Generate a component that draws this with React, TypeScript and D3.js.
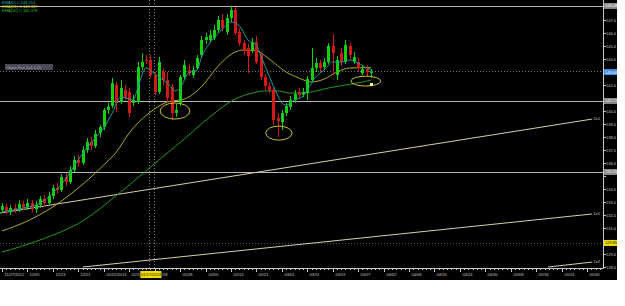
import React from 'react';
import * as d3 from 'd3';

// ---------- data (daily candles, 11/27/2012 .. 03/28/2013) ----------
const opens = [
  132.38, 132.62, 132.23, 132.54, 132.38, 132.85, 132.62, 132.92, 132.46, 132.77,
  133.23, 132.92, 133.46, 134.08, 133.92, 134.92, 134.54, 135.46, 136.23, 136.00,
  137.00, 137.62, 137.31, 138.31, 138.77, 140.08, 140.38, 142.00, 140.69, 141.62,
  141.46, 140.62, 140.69, 143.38, 143.92, 143.92, 142.77, 141.46, 143.00, 142.38,
  141.85, 139.85, 140.62, 142.62, 143.15, 142.77, 143.31, 144.31, 145.46, 145.46,
  145.62, 146.23, 147.00, 146.08, 147.15, 147.77, 146.08, 145.23, 144.85, 144.69,
  145.31, 144.31, 142.62, 141.92, 141.62, 139.46, 139.15, 139.85, 140.31, 140.85,
  141.46, 141.23, 141.38, 142.38, 143.31, 143.69, 143.38, 143.77, 145.00, 142.77,
  144.46, 143.77, 145.00, 143.77, 143.77, 142.92, 143.23, 142.92,
];
const highs = [
  132.92, 132.85, 132.77, 132.85, 133.15, 133.08, 133.23, 133.15, 133.08, 133.46,
  133.54, 133.77, 134.31, 134.46, 135.15, 135.23, 135.77, 136.54, 136.62, 137.31,
  137.92, 138.00, 138.54, 138.92, 140.23, 140.62, 142.54, 142.23, 142.38, 142.00,
  141.77, 141.23, 143.77, 144.46, 144.31, 144.31, 143.00, 144.15, 143.31, 143.00,
  142.08, 140.54, 142.77, 143.92, 143.62, 143.46, 144.31, 145.77, 146.00, 146.23,
  146.62, 147.31, 147.46, 147.46, 148.08, 148.00, 146.38, 145.46, 145.15, 145.62,
  145.77, 144.54, 142.85, 142.23, 141.77, 139.85, 140.08, 140.62, 141.15, 141.62,
  141.77, 141.77, 142.69, 144.85, 144.08, 143.92, 144.08, 145.23, 145.92, 144.23,
  144.85, 145.46, 145.23, 144.54, 144.08, 143.54, 143.54, 143.23,
];
const lows = [
  132.15, 132.08, 132.00, 132.15, 132.23, 132.38, 132.38, 132.23, 132.15, 132.54,
  132.69, 132.77, 133.23, 133.62, 133.77, 134.23, 134.38, 135.31, 135.69, 135.85,
  136.77, 137.00, 137.15, 138.00, 138.54, 139.77, 140.23, 139.92, 140.54, 140.85,
  139.54, 140.38, 140.54, 143.15, 143.62, 142.54, 141.23, 141.31, 142.00, 140.69,
  139.31, 139.54, 140.38, 142.38, 142.69, 142.54, 143.15, 144.15, 145.15, 145.31,
  145.46, 146.00, 146.15, 145.85, 146.85, 145.85, 145.00, 144.31, 142.92, 144.46,
  143.62, 142.38, 141.62, 141.38, 138.92, 138.00, 138.54, 139.62, 140.08, 140.62,
  141.00, 141.08, 140.85, 142.23, 143.00, 143.00, 143.15, 143.62, 142.77, 142.38,
  143.46, 143.62, 143.92, 143.62, 143.00, 142.77, 142.69, 142.54,
];
const closes = [
  132.69, 132.23, 132.54, 132.38, 132.85, 132.62, 132.92, 132.46, 132.77, 133.23,
  132.92, 133.46, 134.08, 133.92, 134.92, 134.54, 135.46, 136.23, 136.00, 137.00,
  137.62, 137.31, 138.23, 138.77, 140.08, 140.31, 142.15, 140.62, 141.77, 141.00,
  139.85, 140.85, 143.38, 143.77, 143.85, 142.77, 141.46, 143.77, 142.38, 141.00,
  139.85, 140.08, 142.62, 143.54, 142.92, 143.15, 144.08, 145.46, 145.69, 145.85,
  146.23, 147.00, 146.38, 147.15, 147.77, 146.00, 145.23, 144.69, 144.23, 145.31,
  143.77, 142.62, 141.92, 141.62, 139.31, 139.23, 139.85, 140.38, 140.85, 141.31,
  141.23, 141.46, 142.46, 143.31, 143.69, 143.31, 143.77, 145.00, 144.46, 143.92,
  143.77, 145.08, 144.31, 144.15, 143.31, 143.23, 143.00, 143.05,
];

// moving averages (read at sample bars)
const emaFastBars = [0, 5, 9, 12, 15, 17, 20, 22, 24, 26, 28, 31, 32, 34, 36, 37, 39, 41, 42, 44, 46, 47, 49, 50, 52, 54, 56, 58, 60, 61, 63, 65, 66, 67, 69, 71, 72, 74, 76, 78, 80, 82, 84, 86, 87];
const emaFastVals = [132.23, 132.54, 132.92, 133.69, 134.77, 135.77, 137.15, 137.92, 138.69, 139.85, 141.08, 140.85, 141.77, 143.31, 142.85, 142.62, 142.15, 141.54, 141.77, 142.92, 143.15, 144.08, 145.23, 145.62, 146.31, 146.85, 146.54, 145.46, 145.08, 144.31, 142.69, 141.23, 140.62, 140.46, 140.85, 141.15, 141.62, 142.62, 143.15, 143.77, 143.77, 143.92, 143.69, 143.31, 143.21];
const emaMidBars = [0, 6, 12, 18, 24, 27, 30, 35, 39, 43, 47, 51, 55, 57, 60, 63, 67, 70, 73, 76, 79, 82, 85, 87];
const emaMidVals = [130.77, 131.54, 132.62, 134.08, 135.85, 136.85, 138.31, 139.92, 140.69, 140.92, 141.85, 143.46, 144.54, 144.69, 144.62, 144.0, 143.0, 142.54, 142.23, 142.46, 143.0, 143.31, 143.33, 143.34];
const emaSlowBars = [0, 9, 19, 28, 37, 43, 49, 55, 59, 62, 65, 68, 71, 74, 77, 81, 85, 87];
const emaSlowVals = [129.15, 130.08, 131.54, 133.77, 136.23, 137.85, 139.54, 140.92, 141.38, 141.54, 141.54, 141.38, 141.38, 141.54, 141.77, 142.0, 142.23, 142.38];

const legendNames = ['EMA(5) C', 'EMA(21) C', 'EMA(55) C'];
const legendValues = [143.214, 143.337, 142.378];

const dateLabels = ['11/27/2012', '12/05', '12/13', '12/21', '01/02/2013', '01/10', '01/18', '01/28', '02/05', '02/13', '02/21', '03/01', '03/11', '03/19', '03/27', '04/02', '04/08', '04/16', '04/24', '04/30', '05/08', '05/16', '05/24', '05/30'];
const dateLabelStep = 6;
const crosshairBar = 35;
const crosshairDate = '01/17/2013';

const priceTicks = [147, 146, 145, 144, 143, 142, 141, 140, 139, 138, 137, 136, 135, 134, 133, 132, 131, 130, 129, 128];

const hLineValues = [148.08, 140.77, 135.31];
const dottedLineValues = [129.85];
const markValues = [148.08, 143.0, 140.77, 135.31, 129.85];
const markKinds = ['gray', 'blue', 'gray', 'gray', 'yellow'];

const gannNames = ['2x1', '1x1', '1x2'];
const gannStartBar = [-0.5, 19.1, 128.8];
const gannStartPrice = [132.15, 128.0, 128.0];
const gannEndBar = [139.2, 139.2, 139.2];
const gannEndPrice = [139.38, 132.08, 128.38];

const ellipseBar = [40.8, 65.3, 85.8];
const ellipsePrice = [140.0, 138.3, 142.3];
const ellipseHalfBars = [3.5, 3.1, 3.5];
const ellipseHalfPrice = [0.62, 0.54, 0.38];

const boxLabel = 'Gann Fan 1x1 0.25';

// ---------- layout ----------
const W = 625;
const H = 306;
const PR = 603; // plot right
const PB = 268; // plot bottom
const BAR = 4.24;
const FONT = '"Liberation Sans", Arial, sans-serif';

const GREEN = '#10d010';
const RED = '#d41818';

export default function App() {
  const x = d3.scaleLinear().domain([0, 141]).range([2, 2 + 141 * BAR]);
  const y = d3.scaleLinear().domain([128, 147]).range([267, 20]);

  const lineGen = (bars: number[], vals: number[]) =>
    d3.line<number>().x((_, i) => x(bars[i])).y((v) => y(v)).curve(d3.curveMonotoneX)(vals) || '';

  const markFill: Record<string, string> = { gray: '#8a8a8a', blue: '#3d8fe0', yellow: '#f0e000' };
  const markText: Record<string, string> = { gray: '#f0f0f0', blue: '#ffffff', yellow: '#000000' };

  const minorTicks = d3.range(0, 142);
  // hide regular price labels that collide with highlighted price marks
  const visibleTicks = priceTicks.filter((p) => markValues.every((m) => Math.abs(y(p) - y(m)) > 6.5));

  return (
    <svg width={W} height={H} style={{ position: 'absolute', left: 0, top: 0, background: '#fff' }} fontFamily={FONT}>
      <defs>
        <clipPath id="plot">
          <rect x={0} y={0} width={PR} height={PB} />
        </clipPath>
      </defs>
      <rect x={0} y={0} width={617} height={280} fill="#000" />

      <g clipPath="url(#plot)">
        {hLineValues.map((v, i) => (
          <line key={'h' + i} x1={0} x2={PR} y1={Math.round(y(v)) + 0.5} y2={Math.round(y(v)) + 0.5} stroke="#b8b8b8" strokeWidth={1} />
        ))}
        {dottedLineValues.map((v, i) => (
          <line key={'d' + i} x1={0} x2={PR} y1={Math.round(y(v)) + 0.5} y2={Math.round(y(v)) + 0.5} stroke="#555" strokeDasharray="1,2" />
        ))}
        <line x1={0} x2={PR} y1={Math.round(y(closes[closes.length - 1])) + 0.5} y2={Math.round(y(closes[closes.length - 1])) + 0.5} stroke="#777" strokeDasharray="1,2" />
        {[crosshairBar, crosshairBar + 1].map((b, i) => (
          <line key={'v' + i} x1={Math.round(x(b)) - 0.5} x2={Math.round(x(b)) - 0.5} y1={0} y2={PB} stroke="#808080" strokeDasharray="1,2" />
        ))}

        {gannNames.map((n, i) => (
          <line key={'g' + i} x1={x(gannStartBar[i])} y1={y(gannStartPrice[i])} x2={x(gannEndBar[i])} y2={y(gannEndPrice[i])} stroke="#d8d0a8" strokeWidth={1} />
        ))}

        <path d={lineGen(emaSlowBars, emaSlowVals)} fill="none" stroke="#1f9a1f" strokeWidth={1} />
        <path d={lineGen(emaMidBars, emaMidVals)} fill="none" stroke="#b4aa22" strokeWidth={1} />

        {closes.map((c, i) => {
          const o = opens[i];
          const up = c >= o;
          const col = up ? GREEN : RED;
          const cx = Math.round(x(i)) + 0.5;
          const top = y(Math.max(o, c));
          const bot = y(Math.min(o, c));
          return (
            <g key={'c' + i}>
              <line x1={cx} x2={cx} y1={y(highs[i])} y2={y(lows[i])} stroke={col} strokeWidth={1} />
              <rect x={cx - 1.5} y={top} width={3} height={Math.max(1, bot - top)} fill={col} />
            </g>
          );
        })}

        <path d={lineGen(emaFastBars, emaFastVals)} fill="none" stroke="#1a9a9a" strokeWidth={1} />

        {ellipseBar.map((b, i) => (
          <ellipse key={'e' + i} cx={x(b)} cy={y(ellipsePrice[i])} rx={x(ellipseHalfBars[i]) - x(0)} ry={y(0) - y(ellipseHalfPrice[i])} fill="none" stroke="#c8c030" strokeWidth={1} />
        ))}
        <rect x={Math.round(x(closes.length - 1)) - 1} y={y(lows[lows.length - 1]) + 5} width={3} height={3} fill="#e8f090" />

        {gannNames.map((n, i) => (
          <text key={'gl' + i} x={600} y={y(gannEndPrice[i]) + 1} fontSize={4} fill="#d0d0d0" textAnchor="end">{n}</text>
        ))}

        <rect x={5} y={64} width={48} height={6} fill="#4a4a56" />
        <text x={7} y={68.5} fontSize={4} fill="#a8a8b8">{boxLabel}</text>
      </g>

      {legendNames.map((n, i) => (
        <text key={'lg' + i} x={2} y={3.5 + i * 4} fontSize={4} fill={['#10b8b8', '#d8d000', '#30c030'][i]}>
          {n + ' ' + legendValues[i].toFixed(3)}
        </text>
      ))}

      <line x1={PR + 0.5} x2={PR + 0.5} y1={0} y2={PB + 0.5} stroke="#c8c8c8" />
      <line x1={0} x2={PR + 0.5} y1={PB + 0.5} y2={PB + 0.5} stroke="#c8c8c8" />

      {priceTicks.map((p) => (
        <line key={'ptl' + p} x1={PR} x2={PR + 3} y1={Math.round(y(p)) + 0.5} y2={Math.round(y(p)) + 0.5} stroke="#c8c8c8" />
      ))}
      {visibleTicks.map((p) => (
        <text key={'pt' + p} x={PR + 3} y={y(p) + 1.5} fontSize={4} fill="#c8c8c8">{p.toFixed(1)}</text>
      ))}
      {markValues.map((v, i) => (
        <g key={'mk' + i}>
          <rect x={PR + 1} y={y(v) - 3} width={13} height={6} fill={markFill[markKinds[i]]} />
          <text x={PR + 2} y={y(v) + 1.5} fontSize={4} fill={markText[markKinds[i]]}>{v.toFixed(2)}</text>
        </g>
      ))}

      {minorTicks.map((b) => (
        <line key={'mt' + b} x1={Math.round(x(b)) + 0.5} x2={Math.round(x(b)) + 0.5} y1={PB} y2={PB + 2} stroke="#c8c8c8" />
      ))}
      {dateLabels.map((d, i) => {
        const xx = Math.round(x(i * dateLabelStep)) + 0.5;
        return (
          <g key={'dl' + i}>
            <line x1={xx} x2={xx} y1={PB} y2={PB + 4} stroke="#c8c8c8" />
            <text x={xx + 2} y={276} fontSize={4} fill="#c8c8c8">{d}</text>
          </g>
        );
      })}
      <rect x={x(crosshairBar) - 10} y={271} width={21} height={7} fill="#f0e000" />
      <text x={x(crosshairBar) + 0.5} y={276} fontSize={4} fill="#000" textAnchor="middle">{crosshairDate}</text>
    </svg>
  );
}
